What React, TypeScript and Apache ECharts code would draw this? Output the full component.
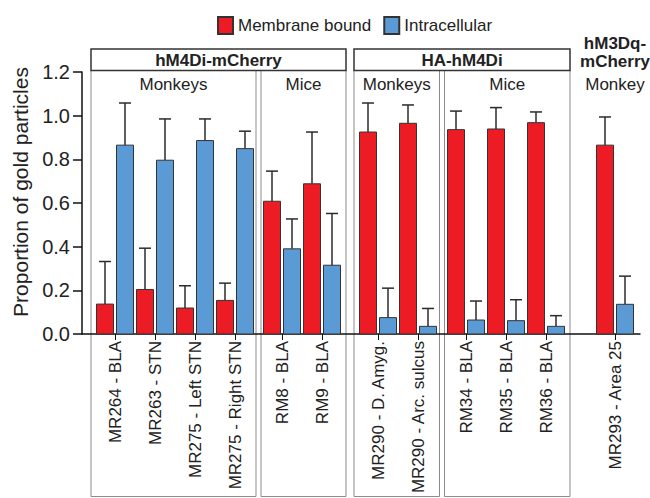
import React, { useEffect, useRef } from "react";
import * as echarts from "echarts";

// ---- data ----
const categories = [
  "MR264 - BLA",
  "MR263 - STN",
  "MR275 - Left STN",
  "MR275 - Right STN",
  "RM8 - BLA",
  "RM9 - BLA",
  "MR290 - D. Amyg.",
  "MR290 - Arc. sulcus",
  "RM34 - BLA",
  "RM35 - BLA",
  "RM36 - BLA",
  "MR293 - Area 25",
];
const membraneBound = [0.137, 0.204, 0.119, 0.154, 0.608, 0.688, 0.925, 0.965, 0.936, 0.939, 0.968, 0.865];
const membraneErr = [0.195, 0.189, 0.102, 0.079, 0.138, 0.237, 0.133, 0.084, 0.085, 0.098, 0.049, 0.129];
const intracellular = [0.865, 0.796, 0.886, 0.849, 0.39, 0.315, 0.075, 0.035, 0.064, 0.061, 0.035, 0.136];
const intracellularErr = [0.193, 0.189, 0.099, 0.08, 0.137, 0.237, 0.135, 0.082, 0.087, 0.096, 0.049, 0.129];
const seriesNames = ["Membrane bound", "Intracellular"];

const groupTitles = ["hM4Di-mCherry", "HA-hM4Di", "hM3Dq-\nmCherry"];
const groupBoxed = [true, true, false];
const subgroupNames = ["Monkeys", "Mice", "Monkeys", "Mice", "Monkey"];
const subgroupGroup = [0, 0, 1, 1, 2];
const categorySubgroup = [0, 0, 0, 0, 1, 1, 2, 2, 3, 3, 3, 4];
const yTicks = [0, 0.2, 0.4, 0.6, 0.8, 1.0, 1.2];

// ---- layout helpers ----
const subgroupGapAfter = [0.175, 0.4, 0.2, 0.725]; // extra spacing (in category units)
const positions: number[] = (() => {
  const out: number[] = [];
  let extra = 0;
  for (let i = 0; i < categories.length; i++) {
    if (i > 0 && categorySubgroup[i] !== categorySubgroup[i - 1]) {
      extra += subgroupGapAfter[categorySubgroup[i - 1]];
    }
    out.push(i + extra);
  }
  return out;
})();

const COLORS = ["#ED1C24", "#5B9BD5"];
const FONT = "'Liberation Sans', Arial, Helvetica, sans-serif";
const BAR_W = 0.425;
const BAR_OFF = 0.25;

function labelFor(v: number) {
  let best = -1;
  let bd = 1e9;
  positions.forEach((p, i) => {
    const d = Math.abs(p - v);
    if (d < bd) {
      bd = d;
      best = i;
    }
  });
  return bd < 0.01 ? categories[best] : "";
}

function makeSeries(idx: number, values: number[], errs: number[]) {
  const offset = idx === 0 ? -BAR_OFF : BAR_OFF;
  return {
    type: "custom",
    name: seriesNames[idx],
    itemStyle: { color: COLORS[idx], borderColor: "#333", borderWidth: 1 },
    data: values.map((v, i) => [positions[i], v, errs[i]]),
    z: 3,
    renderItem: (params: any, api: any) => {
      const x = api.value(0);
      const v = api.value(1);
      const e = api.value(2);
      const base = api.coord([x, 0]);
      const top = api.coord([x, v]);
      const errTop = api.coord([x, v + e]);
      const unit = api.size([1, 0])[0];
      const w = unit * BAR_W;
      const cx = base[0] + unit * offset;
      const cap = 12;
      return {
        type: "group",
        children: [
          {
            type: "line",
            shape: { x1: cx, y1: top[1], x2: cx, y2: errTop[1] },
            style: { stroke: "#2b2b2b", lineWidth: 1.5 },
          },
          {
            type: "line",
            shape: { x1: cx - cap / 2, y1: errTop[1], x2: cx + cap / 2, y2: errTop[1] },
            style: { stroke: "#2b2b2b", lineWidth: 1.5 },
          },
          {
            type: "rect",
            shape: { x: cx - w / 2, y: top[1], width: w, height: base[1] - top[1] },
            style: { fill: COLORS[idx], stroke: "#333", lineWidth: 1 },
          },
        ],
      };
    },
  };
}

export default function App() {
  const ref = useRef<HTMLDivElement>(null);
  useEffect(() => {
    if (!ref.current) return;
    const chart = echarts.init(ref.current, null, { renderer: "svg" });
    const xMin = -0.825;
    const xMax = 13.125;
    const option: any = {
      animation: false,
      backgroundColor: "#ffffff",
      textStyle: { fontFamily: FONT },
      legend: {
        data: seriesNames,
        top: 11,
        left: 212,
        icon: "rect",
        itemWidth: 15,
        itemHeight: 17,
        itemGap: 12,
        textStyle: { fontSize: 17, color: "#222", fontFamily: FONT },
      },
      grid: { left: 82, right: 10, top: 72, bottom: 164, containLabel: false },
      xAxis: {
        type: "value",
        min: xMin,
        max: xMax,
        splitLine: { show: false },
        axisLine: { show: true, onZero: false, lineStyle: { color: "#111", width: 1.5 } },
        axisTick: { show: true, length: 6, customValues: positions, lineStyle: { color: "#111", width: 1 } },
        axisLabel: {
          show: true,
          customValues: positions,
          rotate: 90,
          margin: 7,
          fontSize: 17,
          color: "#222",
          fontFamily: FONT,
          formatter: (v: number) => labelFor(v),
        },
      },
      yAxis: {
        type: "value",
        min: 0,
        max: 1.2,
        interval: 0.2,
        splitLine: { show: false },
        axisLine: { show: true, onZero: false, lineStyle: { color: "#111", width: 1.5 } },
        axisTick: { show: true, length: 9, lineStyle: { color: "#111", width: 1.5 } },
        axisLabel: {
          margin: 12,
          fontSize: 20,
          color: "#222",
          fontFamily: FONT,
          formatter: (v: number) => (yTicks.some((t) => Math.abs(t - v) < 1e-6) ? v.toFixed(1) : ""),
        },
      },
      series: [makeSeries(0, membraneBound, membraneErr), makeSeries(1, intracellular, intracellularErr)],
    };
    chart.setOption(option);

    // decorations: group boxes and headings
    const px = (v: number) => chart.convertToPixel({ xAxisIndex: 0 }, v) as number;
    const HEADER_TOP = 49;
    const HEADER_BOT = 70.5;
    const BOX_BOT = 496.5;
    const OUTER_PAD = 0.6;
    const DIV_HALF = 2.5;
    const nSub = subgroupNames.length;
    const subFirst: number[] = [];
    const subLast: number[] = [];
    for (let s = 0; s < nSub; s++) {
      const idx = categorySubgroup.map((g, i) => (g === s ? i : -1)).filter((i) => i >= 0);
      subFirst.push(positions[idx[0]]);
      subLast.push(positions[idx[idx.length - 1]]);
    }
    const subLeft: number[] = [];
    const subRight: number[] = [];
    for (let s = 0; s < nSub; s++) {
      const g = subgroupGroup[s];
      const prevSame = s > 0 && subgroupGroup[s - 1] === g;
      const nextSame = s < nSub - 1 && subgroupGroup[s + 1] === g;
      subLeft.push(prevSame ? px((subLast[s - 1] + subFirst[s]) / 2) + DIV_HALF : px(subFirst[s] - OUTER_PAD));
      subRight.push(nextSame ? px((subLast[s] + subFirst[s + 1]) / 2) - DIV_HALF : px(subLast[s] + OUTER_PAD));
    }
    const graphics: any[] = [];
    graphics.push({
      type: "text",
      x: 20,
      y: 192,
      rotation: Math.PI / 2,
      style: {
        text: "Proportion of gold particles",
        fontSize: 21,
        fontFamily: FONT,
        fill: "#222",
        align: "center",
        verticalAlign: "middle",
      },
    });
    for (let s = 0; s < nSub; s++) {
      const g = subgroupGroup[s];
      if (groupBoxed[g]) {
        graphics.push({
          type: "rect",
          z: -1,
          shape: { x: subLeft[s], y: HEADER_BOT, width: subRight[s] - subLeft[s], height: BOX_BOT - HEADER_BOT },
          style: { fill: "none", stroke: "#8c8c8c", lineWidth: 1 },
        });
      }
      graphics.push({
        type: "text",
        x: (subLeft[s] + subRight[s]) / 2,
        y: 84,
        style: {
          text: subgroupNames[s],
          fontSize: 17,
          fontFamily: FONT,
          fill: "#222",
          align: "center",
          verticalAlign: "middle",
        },
      });
    }
    for (let g = 0; g < groupTitles.length; g++) {
      const subs = subgroupGroup.map((gg, i) => (gg === g ? i : -1)).filter((i) => i >= 0);
      const l = subLeft[subs[0]];
      const r = subRight[subs[subs.length - 1]];
      if (groupBoxed[g]) {
        graphics.push({
          type: "rect",
          shape: { x: l, y: HEADER_TOP, width: r - l, height: HEADER_BOT - HEADER_TOP },
          style: { fill: "none", stroke: "#333", lineWidth: 1.5 },
        });
        graphics.push({
          type: "text",
          x: (l + r) / 2,
          y: (HEADER_TOP + HEADER_BOT) / 2 + 1,
          style: {
            text: groupTitles[g],
            fontSize: 17,
            fontWeight: "bold",
            fontFamily: FONT,
            fill: "#222",
            align: "center",
            verticalAlign: "middle",
          },
        });
      } else {
        graphics.push({
          type: "text",
          x: (l + r) / 2,
          y: 52,
          style: {
            text: groupTitles[g],
            fontSize: 17,
            lineHeight: 18,
            fontWeight: "bold",
            fontFamily: FONT,
            fill: "#222",
            align: "center",
            verticalAlign: "middle",
          },
        });
      }
    }
    chart.setOption({ graphic: graphics });
    return () => chart.dispose();
  }, []);
  return (
    <div
      ref={ref}
      style={{ position: "absolute", left: 0, top: 0, width: 650, height: 498, background: "#fff" }}
    />
  );
}
